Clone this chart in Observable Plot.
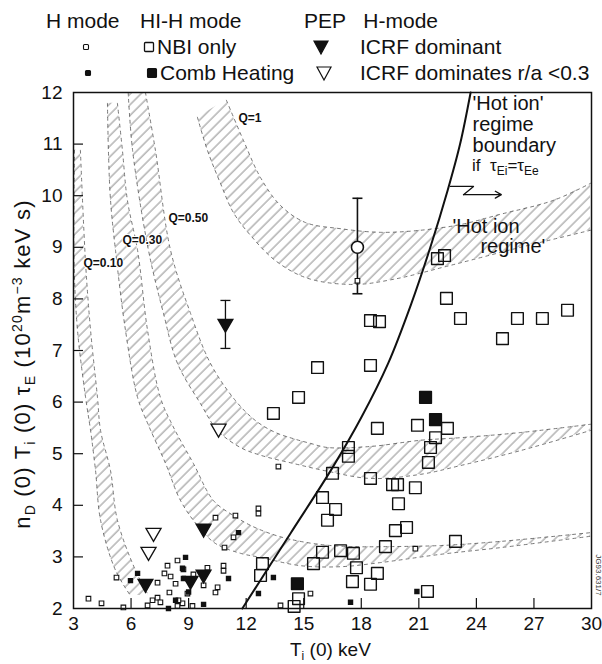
<!DOCTYPE html>
<html><head><meta charset="utf-8">
<script src="https://cdn.jsdelivr.net/npm/d3@7"></script>
<script src="https://cdn.jsdelivr.net/npm/@observablehq/plot@0.6"></script>
<style>
html,body{margin:0;padding:0;background:#fff;}
#chart{width:602px;height:664px;}
svg{display:block;}
</style></head><body><div id="chart"></div>
<script>
const FONT = "'Liberation Sans', Arial, Helvetica, sans-serif";
const xTicks = [3,6,9,12,15,18,21,24,27,30];
const yTicks = [2,3,4,5,6,7,8,9,10,11,12];
const innerTicksX = [6,9,12,15,18,21,24,27];
const innerTicksY = [3,4,5,6,7,8,9,10,11];

// Q contour bands (inner / outer edges)
const q1InT  = [9.46,9.98,10.66,11.34,12.23,13.53,15.20,17.59,19.68,22.65,26.30,29.95];
const q1InY  = [11.52,10.88,10.24,9.67,9.23,8.74,8.40,8.28,8.38,8.65,9.00,9.33];
const q1OutT = [10.97,11.86,12.75,13.79,15.09,16.92,19.00,21.09,23.17,25.26,28.02,29.95];
const q1OutY = [11.85,11.07,10.35,9.81,9.48,9.36,9.29,9.33,9.44,9.64,9.91,10.24];

const q5InT  = [5.85,6.08,6.91,7.69,8.42,9.62,10.51,11.70,12.75,14.47,16.24,18.48,21.09,23.17,26.30,29.95];
const q5InY  = [12.0,10.88,8.94,7.72,6.75,5.97,5.45,5.12,4.97,4.81,4.66,4.52,4.60,4.77,5.06,5.45];
const q5OutT = [6.75,7.27,8.06,9.10,10.14,11.44,12.49,13.53,14.47,15.35,16.24,18.48,21.09,23.17,26.30,29.95];
const q5OutY = [12.0,10.88,8.94,7.72,6.75,6.03,5.64,5.41,5.29,5.20,5.12,5.14,5.26,5.31,5.41,5.57];

const q3InT  = [4.77,4.82,4.93,5.19,5.71,6.34,6.91,7.80,8.58,9.46,10.40,11.70,12.75,14.83,16.92,19.00,22.13,25.26,29.95];
const q3InY  = [11.79,10.88,9.91,8.94,7.39,6.09,5.55,4.81,4.09,3.61,3.26,3.07,2.99,2.83,2.81,2.89,3.05,3.18,3.40];
const q3OutT = [5.29,5.55,5.81,6.34,6.86,7.53,8.16,9.25,10.30,11.34,12.23,13.27,14.31,15.87,17.44,19.52,22.13,25.26,29.95];
const q3OutY = [11.79,10.88,9.91,8.94,7.39,6.09,5.55,4.81,4.09,3.80,3.61,3.45,3.34,3.24,3.20,3.20,3.22,3.30,3.47];

const q01InT  = [3.05,3.03,3.21,3.63,3.89,4.15,4.41,5.19,5.97];
const q01InY  = [10.88,8.69,7.39,6.09,5.45,4.67,3.71,2.74,2.25];
const q01OutT = [3.36,3.63,3.89,4.25,4.41,4.93,5.29,6.23,6.91];
const q01OutY = [10.88,8.69,7.39,6.09,5.45,4.67,3.71,2.74,2.25];

// 'Hot ion' regime boundary
const bndT = [11.8,14.3,16.5,18.0,19.4,20.6,21.6,22.5,23.15,23.7];
const bndY = [2.0,3.45,4.73,5.7,6.75,7.9,9.0,10.1,11.0,12.0];

// H mode, NBI only (small open)
const hNbiT = [3.78,4.46,5.24,5.60,6.86,7.12,7.38,7.38,7.53,7.90,8.42,7.74,8.06,8.00,8.32,8.73,8.94,9.25,9.98,9.78,10.51,10.40,10.82,10.82,8.68,8.42,9.20,8.47,10.40,11.44,12.64,12.64,11.34,10.87,13.68,13.79,15.35,20.82,17.80];
const hNbiY = [2.19,2.10,2.60,2.02,2.06,2.16,2.50,2.21,2.12,2.83,2.93,2.68,2.62,2.31,2.48,2.76,2.29,2.66,2.79,2.45,2.41,2.31,2.83,2.73,2.10,2.05,2.05,2.16,3.76,3.80,3.94,3.84,3.38,3.18,4.75,2.06,2.29,3.16,8.35];
// H mode, combined heating (small filled)
const hCombT = [8.84,8.68,8.73,11.08,9.78,7.95,8.32,6.34,5.97,13.42,12.64,11.60,17.44,20.90,9.00];
const hCombY = [2.99,2.78,2.58,2.58,2.08,2.00,2.16,2.68,2.54,2.60,2.29,3.47,2.12,2.33,2.32];
// HI-H mode, NBI only (large open)
const hihNbiT = [21.97,22.34,22.44,18.48,18.95,23.17,26.14,27.44,28.75,25.36,18.48,15.72,14.73,13.42,18.84,20.93,22.49,21.87,21.61,21.50,17.33,17.33,16.50,18.48,19.63,19.89,20.82,19.94,16.66,15.98,16.24,19.78,20.36,22.91,19.26,16.92,17.59,17.75,18.84,17.54,18.48,21.45,15.98,15.51,12.85,12.75,14.73,14.50];
const hihNbiY = [8.78,8.84,8.01,7.58,7.56,7.62,7.62,7.62,7.78,7.23,6.71,6.67,6.09,5.78,5.49,5.55,5.49,5.31,5.12,4.83,5.12,4.95,4.62,4.52,4.40,4.40,4.34,4.03,3.92,4.15,3.71,3.51,3.57,3.30,3.20,3.12,3.07,2.79,2.68,2.52,2.47,2.33,3.09,2.87,2.87,2.64,2.19,2.04];
// HI-H mode, combined heating (large filled)
const hihCombT = [21.35,21.87,14.67];
const hihCombY = [6.09,5.66,2.48];
// HI-H point with error bar
const errT = [17.8], errY = [9.0], errLo = [8.1], errHi = [9.95];
// PEP H-mode, ICRF dominant (filled down triangles)
const pepDomT = [10.92,9.78,9.10,9.78,6.75];
const pepDomY = [7.52,3.55,2.54,2.66,2.48];
const pepErrT = [10.92], pepErrLo = [7.04], pepErrHi = [7.97];
// PEP H-mode, ICRF dominates r/a<0.3 (open down triangles)
const pepCoreT = [10.56,7.17,6.91];
const pepCoreY = [5.49,3.47,3.10];

// labels
const qLabelText = ["Q=1","Q=0.50","Q=0.30","Q=0.10"];
const qLabelT = [11.6,7.95,5.55,3.52];
const qLabelY = [11.5,9.56,9.13,8.70];
const hotText = ["'Hot ion'","regime","boundary"];
const hotT = [23.8,23.8,23.8];
const hotY = [11.79,11.38,10.97];
const hot2Text = ["'Hot ion","regime'"];
const hot2T = [22.75,24.21];
const hot2Y = [9.40,9.02];
const zigT = [22.65,23.85,23.33];
const zigY = [10.18,10.18,10.02];

const band = (iT,iY,oT,oY) => iT.map((t,i)=>({x1:t,y1:iY[i],x2:oT[i],y2:oY[i]}));
const pts = (T,Y) => T.map((t,i)=>({T:t,Y:Y[i]}));
const labels = (S,T,Y) => S.map((s,i)=>({s,T:T[i],Y:Y[i]}));

const bands = [
  [q1InT,q1InY,q1OutT,q1OutY],
  [q5InT,q5InY,q5OutT,q5OutY],
  [q3InT,q3InY,q3OutT,q3OutY],
  [q01InT,q01InY,q01OutT,q01OutY]
];

const hatchDefs = () => {
  const defs = d3.create("svg:defs");
  const p = defs.append("pattern").attr("id","hatch").attr("patternUnits","userSpaceOnUse")
    .attr("width",7.5).attr("height",7.5).attr("patternTransform","rotate(45)");
  p.append("line").attr("x1",1).attr("y1",0).attr("x2",1).attr("y2",7.5)
    .attr("stroke","#666").attr("stroke-width",0.75);
  return defs.node();
};
const capSymbol = {draw(ctx){ ctx.moveTo(-5,0); ctx.lineTo(5,0); }};

const marks = [hatchDefs];
for (const [iT,iY,oT,oY] of bands) {
  marks.push(Plot.area(band(iT,iY,oT,oY), {x1:"x1",y1:"y1",x2:"x2",y2:"y2",fill:"url(#hatch)",curve:"catmull-rom"}));
  marks.push(Plot.line(pts(iT,iY), {x:"T",y:"Y",stroke:"#555",strokeWidth:0.8,strokeDasharray:"3,4",curve:"catmull-rom"}));
  marks.push(Plot.line(pts(oT,oY), {x:"T",y:"Y",stroke:"#555",strokeWidth:0.8,strokeDasharray:"3,4",curve:"catmull-rom"}));
}
marks.push(
  Plot.line(pts(bndT,bndY), {x:"T",y:"Y",stroke:"#111",strokeWidth:2,curve:"catmull-rom"}),
  Plot.ruleX(errT.map((t,i)=>({T:t,lo:errLo[i],hi:errHi[i]})), {x:"T",y1:"lo",y2:"hi",stroke:"#111",strokeWidth:1.6}),
  Plot.dot(errT.flatMap((t,i)=>[{T:t,Y:errLo[i]},{T:t,Y:errHi[i]}]), {x:"T",y:"Y",symbol:capSymbol,stroke:"#111",strokeWidth:1.6}),
  Plot.ruleX(pepErrT.map((t,i)=>({T:t,lo:pepErrLo[i],hi:pepErrHi[i]})), {x:"T",y1:"lo",y2:"hi",stroke:"#111",strokeWidth:1.3}),
  Plot.dot(pepErrT.flatMap((t,i)=>[{T:t,Y:pepErrLo[i]},{T:t,Y:pepErrHi[i]}]), {x:"T",y:"Y",symbol:capSymbol,stroke:"#111",strokeWidth:1.3}),
  Plot.dot(pts(hNbiT,hNbiY), {x:"T",y:"Y",symbol:"square",r:2.6,stroke:"#111",strokeWidth:1.1,fill:"white"}),
  Plot.dot(pts(hCombT,hCombY), {x:"T",y:"Y",symbol:"square",r:2.2,fill:"#111",stroke:"#111"}),
  Plot.dot(pts(hihNbiT,hihNbiY), {x:"T",y:"Y",symbol:"square",r:6.6,stroke:"#111",strokeWidth:1.4,fill:"none",strokeLinejoin:"round"}),
  Plot.dot(pts(errT,errY), {x:"T",y:"Y",symbol:"circle",r:6,stroke:"#111",strokeWidth:1.6,fill:"white"}),
  Plot.dot(pts(hihCombT,hihCombY), {x:"T",y:"Y",symbol:"square",r:6.6,fill:"#111",stroke:"#111",strokeLinejoin:"round"}),
  Plot.dot(pts(pepDomT,pepDomY), {x:"T",y:"Y",symbol:"triangle",rotate:180,r:5.4,fill:"#111",stroke:"#111"}),
  Plot.dot(pts(pepCoreT,pepCoreY), {x:"T",y:"Y",symbol:"triangle",rotate:180,r:5.6,fill:"white",stroke:"#111",strokeWidth:1.3}),
  Plot.text(labels(qLabelText,qLabelT,qLabelY), {x:"T",y:"Y",text:"s",textAnchor:"start",fontWeight:"bold",fontSize:12,fill:"#111",stroke:"white",strokeWidth:2}),
  Plot.text(labels(hotText,hotT,hotY), {x:"T",y:"Y",text:"s",textAnchor:"start",fontSize:20,fill:"#111"}),
  Plot.text(labels(hot2Text,hot2T,hot2Y), {x:"T",y:"Y",text:"s",textAnchor:"start",fontSize:20,fill:"#111"}),
  Plot.line(pts(zigT,zigY), {x:"T",y:"Y",stroke:"#111",strokeWidth:1.3}),
  Plot.arrow([{x1:zigT[2],y1:zigY[2],x2:25.3,y2:zigY[2]}], {x1:"x1",y1:"y1",x2:"x2",y2:"y2",stroke:"#111",strokeWidth:1.3,headLength:8}),
  Plot.tickX(innerTicksX, {x:d=>d, insetTop:506, stroke:"#111", strokeWidth:1.2}),
  Plot.tickY(innerTicksY, {y:d=>d, insetRight:508, stroke:"#111", strokeWidth:1.2}),
  Plot.frame({stroke:"#111", strokeWidth:1.5})
);

const chart = Plot.plot({
  width: 602, height: 664,
  marginTop: 92, marginRight: 11, marginBottom: 56, marginLeft: 73,
  style: {fontFamily: FONT, fontSize: "19px", color: "#111", background: "white"},
  x: {domain:[3,30], ticks: xTicks, tickSize: 0, tickPadding: 8, label: null},
  y: {domain:[2,12], ticks: yTicks, tickSize: 0, tickPadding: 11, label: null},
  marks
});
document.getElementById("chart").appendChild(chart);

const svg = d3.select(chart);
const sx = chart.scale("x"), sy = chart.scale("y");

// legend
const lg = svg.append("g").attr("font-family",FONT).attr("font-size",21).attr("fill","#111");
const txt = (x,y,s,a="start") => lg.append("text").attr("x",x).attr("y",y).attr("text-anchor",a).text(s);
const sq = (cx,cy,s,filled,sw=1.1) => lg.append("rect").attr("x",cx-s/2).attr("y",cy-s/2).attr("width",s).attr("height",s)
  .attr("rx",1).attr("fill",filled?"#111":"white").attr("stroke","#111").attr("stroke-width",sw);
const tri = (cx,cy,filled) => lg.append("path").attr("d",`M${cx-7},${cy-6}L${cx+7},${cy-6}L${cx},${cy+7}Z`)
  .attr("fill",filled?"#111":"white").attr("stroke","#111").attr("stroke-width",1.2);
txt(46,28,"H mode"); txt(140,28,"HI-H mode"); txt(304,28,"PEP"); txt(438,28,"H-mode","end");
sq(86,47,5,false); sq(149,47,9,false,1.3); txt(157,54,"NBI only"); tri(321,47,true); txt(360,54,"ICRF dominant");
sq(88,73,5,true); sq(152,73,9,true); txt(160,80,"Comb Heating"); tri(324,73,false); txt(360,80,"ICRF dominates r/a <0.3");

// axis titles
const ts = (el,s,dy,fs) => { const t = el.append("tspan").text(s); if (dy) t.attr("dy",dy); if (fs) t.attr("font-size",fs); return t; };
const yt = svg.append("text").attr("transform","translate(30,364) rotate(-90)").attr("text-anchor","middle")
  .attr("font-family",FONT).attr("font-size",22).attr("letter-spacing",1.2).attr("fill","#111");
ts(yt,"n"); ts(yt,"D",5,14); ts(yt," (0) T",-5); ts(yt,"i",5,14); ts(yt," (0) τ",-5); ts(yt,"E",5,14);
ts(yt," (10",-5); ts(yt,"20",-8,14); ts(yt,"m",8); ts(yt,"−3",-8,14); ts(yt," keV s)",8);

const xt = svg.append("text").attr("x",290).attr("y",656).attr("text-anchor","start")
  .attr("font-family",FONT).attr("font-size",19).attr("fill","#111");
ts(xt,"T"); ts(xt,"i",4,12); ts(xt," (0) keV",-4);

// annotation with subscripts
const ann = svg.append("text").attr("x",sx.apply(23.8)).attr("y",sy.apply(10.58)+6).attr("text-anchor","start")
  .attr("font-family",FONT).attr("font-size",17).attr("fill","#111");
ts(ann,"if  τ"); ts(ann,"Ei",4,12); ts(ann,"=τ",-4); ts(ann,"Ee",4,12);

svg.append("text").attr("transform","translate(596,575) rotate(90)").attr("text-anchor","middle")
  .attr("font-family",FONT).attr("font-size",8).attr("fill","#333").text("JG93.631/7");
</script></body></html>
